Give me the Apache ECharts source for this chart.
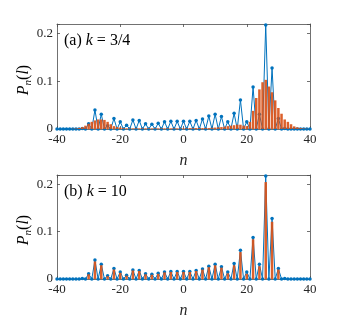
<!DOCTYPE html>
<html>
<head>
<meta charset="utf-8">
<script src="https://cdn.jsdelivr.net/npm/echarts@6/dist/echarts.min.js"></script>
<style>
  html, body { margin: 0; padding: 0; background: #fff; }
  #main { width: 342px; height: 327px; }
</style>
</head>
<body>
<div id="main"></div>
<script>
// site index n
const nValues = [
  -40, -39, -38, -37, -36, -35, -34, -33, -32, -31,
  -30, -29, -28, -27, -26, -25, -24, -23, -22, -21,
  -20, -19, -18, -17, -16, -15, -14, -13, -12, -11,
  -10, -9, -8, -7, -6, -5, -4, -3, -2, -1,
  0, 1, 2, 3, 4, 5, 6, 7, 8, 9,
  10, 11, 12, 13, 14, 15, 16, 17, 18, 19,
  20, 21, 22, 23, 24, 25, 26, 27, 28, 29,
  30, 31, 32, 33, 34, 35, 36, 37, 38, 39,
  40
]

// blue line (same in both panels)
const blueProb = [
  0, 0, 0, 0, 0, 0, 0, 0, 0.001, 0,
  0.011, 0, 0.040, 0, 0.031, 0, 0.007, 0, 0.022, 0,
  0.015, 0, 0.008, 0, 0.019, 0, 0.018, 0, 0.011, 0,
  0.010, 0, 0.012, 0, 0.015, 0, 0.016, 0, 0.016, 0,
  0.016, 0, 0.016, 0, 0.018, 0, 0.021, 0, 0.027, 0,
  0.031, 0, 0.026, 0, 0.015, 0, 0.033, 0, 0.061, 0,
  0.015, 0, 0.088, 0, 0.031, 0, 0.218, 0, 0.128, 0,
  0.022, 0, 0.001, 0, 0, 0, 0, 0, 0, 0,
  0
]

// orange bars, panel (a) k = 3/4
const orangeA = [
  0, 0, 0, 0, 0, 0.0005, 0.001, 0.002, 0.004, 0.007,
  0.011, 0.015, 0.018, 0.020, 0.020, 0.019, 0.015, 0.010, 0.006, 0.004,
  0.003, 0.002, 0.0015, 0.0015, 0.0015, 0.0015, 0.0015, 0.0015, 0.0015, 0.0015,
  0.0015, 0.0015, 0.0015, 0.0015, 0.0015, 0.0015, 0.0015, 0.0015, 0.0015, 0.0015,
  0.0015, 0.0015, 0.002, 0.002, 0.002, 0.002, 0.002, 0.002, 0.002, 0.0025,
  0.003, 0.0035, 0.004, 0.005, 0.006, 0.007, 0.008, 0.009, 0.009, 0.007,
  0.006, 0.015, 0.038, 0.065, 0.083, 0.098, 0.103, 0.089, 0.077, 0.060,
  0.044, 0.032, 0.020, 0.015, 0.010, 0.0055, 0.0035, 0.002, 0.001, 0.0005,
  0
]

// orange bars, panel (b) k = 10
const orangeB = [
  0, 0, 0, 0, 0, 0, 0, 0, 0, 0,
  0.010, 0, 0.037, 0, 0.029, 0, 0.006, 0, 0.020, 0,
  0.013, 0, 0.007, 0, 0.018, 0, 0.017, 0, 0.010, 0,
  0.009, 0, 0.011, 0, 0.014, 0, 0.015, 0, 0.015, 0,
  0.015, 0, 0.015, 0, 0.017, 0, 0.020, 0, 0.025, 0,
  0.029, 0, 0.024, 0, 0.012, 0, 0.029, 0, 0.057, 0,
  0.011, 0, 0.084, 0, 0.027, 0, 0.205, 0, 0.121, 0,
  0.020, 0, 0, 0, 0, 0, 0, 0, 0, 0,
  0
]

const yTicks = [0, 0.1, 0.2]

const FONT = 'Liberation Serif'
const AXIS_COLOR = '#4d4d4d'
const TEXT_COLOR = '#262626'
const BLUE = '#0072BD'
const ORANGE = '#D95319'

const grids = [
  { left: 57, right: 32, top: 24, height: 105 },
  { left: 57, right: 32, top: 175, height: 104 }
]

const xAxes = []
const yAxes = []
grids.forEach((g, i) => {
  const common = {
    gridIndex: i,
    type: 'value',
    axisLine: { show: true, onZero: false, lineStyle: { color: AXIS_COLOR, width: 0.8 } },
    axisTick: { show: true, inside: true, length: 3, lineStyle: { color: AXIS_COLOR, width: 0.8 } },
    splitLine: { show: false }
  }
  xAxes.push({
    ...common, position: 'bottom', min: -40, max: 40, interval: 20,
    axisLabel: { color: TEXT_COLOR, fontFamily: FONT, fontSize: 13, margin: 4 },
    name: 'n', nameLocation: 'middle', nameGap: 24,
    nameTextStyle: { color: TEXT_COLOR, fontFamily: FONT, fontSize: 16, fontStyle: 'italic' }
  })
  xAxes.push({
    ...common, position: 'top', min: -40, max: 40, interval: 20,
    axisLabel: { show: false }
  })
  yAxes.push({
    ...common, position: 'left', min: 0, max: 0.22, interval: 0.1,
    axisLabel: {
      color: TEXT_COLOR, fontFamily: FONT, fontSize: 13, margin: 4,
      formatter: v => yTicks.some(t => Math.abs(t - v) < 1e-9) ? String(+v.toFixed(1)) : ''
    }
  })
  yAxes.push({
    ...common, position: 'right', min: 0, max: 0.22, interval: 0.1,
    axisLabel: { show: false }
  })
})

const pair = arr => nValues.map((n, i) => [n, arr[i]])

const series = []
;[orangeA, orangeB].forEach((bars, i) => {
  series.push({
    type: 'line',
    xAxisIndex: i * 2, yAxisIndex: i * 2,
    data: pair(blueProb),
    symbol: 'circle', symbolSize: 3.5,
    itemStyle: { color: BLUE },
    lineStyle: { color: BLUE, width: 1 },
    z: 2, silent: true, animation: false
  })
  series.push({
    type: 'bar',
    xAxisIndex: i * 2, yAxisIndex: i * 2,
    data: pair(bars),
    barWidth: 2.5,
    itemStyle: { color: ORANGE, opacity: 0.92 },
    z: 3, silent: true, animation: false
  })
})

const labelRich = {
  r: { fontFamily: FONT, fontSize: 16, color: '#000' },
  i: { fontFamily: FONT, fontSize: 16, fontStyle: 'italic', color: '#000' }
}
const ylabRich = {
  i: { fontFamily: FONT, fontSize: 16, fontStyle: 'italic', color: TEXT_COLOR },
  s: { fontFamily: FONT, fontSize: 11, fontStyle: 'italic', color: TEXT_COLOR, padding: [8, 0, 0, 0] },
  r: { fontFamily: FONT, fontSize: 16, color: TEXT_COLOR }
}

const graphic = [
  { type: 'text', left: 64, top: 33, style: { text: '{r|(a) }{i|k}{r| = 3/4}', rich: labelRich } },
  { type: 'text', left: 64, top: 184, style: { text: '{r|(b) }{i|k}{r| = 10}', rich: labelRich } },
  { type: 'text', x: 24, y: 80, rotation: Math.PI / 2,
    style: { text: '{i|P}{s|n}{r|(}{i|l}{r|)}', rich: ylabRich, align: 'center', verticalAlign: 'middle' } },
  { type: 'text', x: 24, y: 230, rotation: Math.PI / 2,
    style: { text: '{i|P}{s|n}{r|(}{i|l}{r|)}', rich: ylabRich, align: 'center', verticalAlign: 'middle' } }
]

const chart = echarts.init(document.getElementById('main'), null, { renderer: 'canvas' })
chart.setOption({
  backgroundColor: '#fff',
  animation: false,
  grid: grids,
  xAxis: xAxes,
  yAxis: yAxes,
  series: series,
  graphic: graphic
})
</script>
</body>
</html>
